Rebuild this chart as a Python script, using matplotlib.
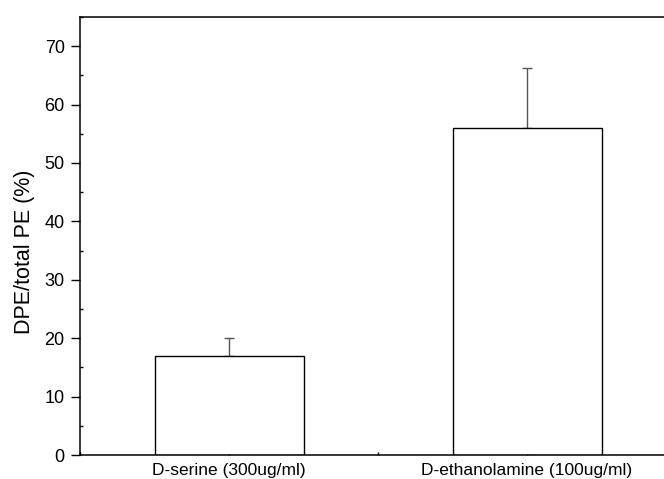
import matplotlib
matplotlib.use("Agg")
import matplotlib.pyplot as plt
from matplotlib.ticker import MultipleLocator

# datos
categorias = ['D-serine (300ug/ml)', 'D-ethanolamine (100ug/ml)']
valores = [16.9, 56.0]
errores = [3.1, 10.3]

plt.rcParams['font.family'] = ['Liberation Sans', 'DejaVu Sans']

fig = plt.figure(figsize=(6.64, 4.79), dpi=100)
# el eje derecho queda fuera de la imagen, como en el original
ax = fig.add_axes([80 / 664, 24 / 479, 596 / 664, 438 / 479])

x = [1, 2]
ax.bar(x, valores, width=0.5, color='white', edgecolor='black', linewidth=1.0, zorder=2)
ax.errorbar(x, valores, yerr=[[0, 0], errores], fmt='none', ecolor='#555555',
            elinewidth=1.0, capsize=3.6, capthick=1.0, zorder=1)

ax.set_xlim(0.5, 2.5)
ax.set_ylim(0, 75)
ax.set_xticks(x)
ax.set_xticklabels(categorias, fontsize=12.5)
ax.xaxis.set_minor_locator(MultipleLocator(0.5))
ax.yaxis.set_major_locator(MultipleLocator(10))
ax.yaxis.set_minor_locator(MultipleLocator(5))
ax.set_ylabel('DPE/total PE (%)', fontsize=15.5)
ax.yaxis.set_label_coords(-0.0755, 0.463)

ax.tick_params(axis='y', which='major', direction='out', length=6.5, width=1.0, labelsize=13, pad=4.5)
ax.tick_params(axis='y', which='minor', direction='in', length=2, width=1.0)
ax.tick_params(axis='x', which='both', direction='in', length=2, width=1.0, pad=6)
ax.tick_params(top=False, right=False)

for s in ax.spines.values():
    s.set_linewidth(1.1)

fig.savefig('out.png', dpi=100)
